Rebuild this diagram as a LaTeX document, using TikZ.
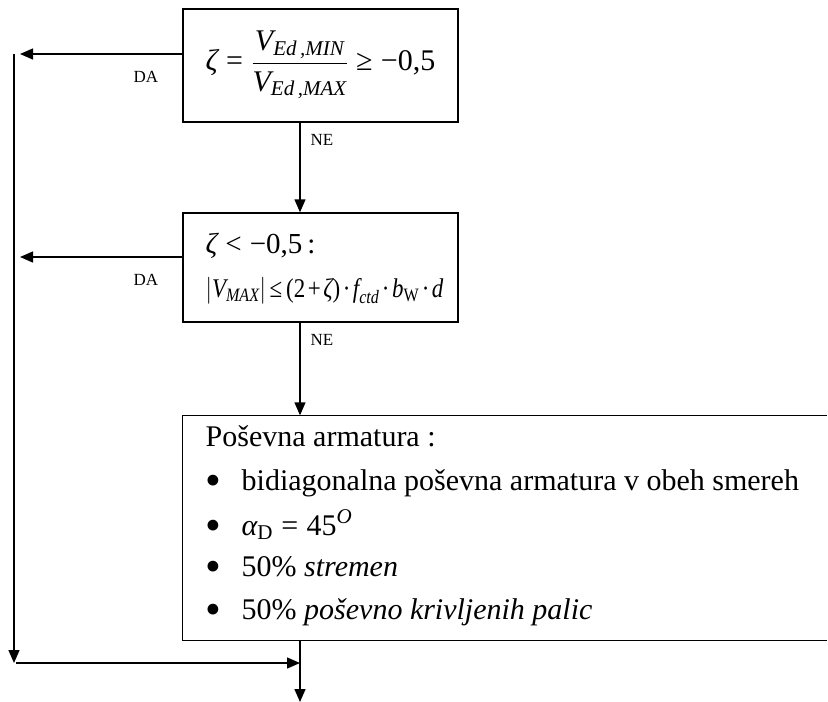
\RequirePackage{fix-cm}
\documentclass[tikz,border=0pt]{standalone}
\usepackage{amsmath}
\usepackage{graphicx}
\usepackage{fontspec}
\setmainfont{Liberation Serif}
\usetikzlibrary{arrows.meta}
% italic / upright pieces of formulas, set in the text face
\newcommand\vi[1]{\text{\itshape #1}}
\newcommand\rl[1]{\mathrel{\text{#1}}}
\newcommand\bn[1]{\mathbin{\text{#1}}}
% list marker followed by the item text
\newcommand\itemmark{\makebox[36pt][l]{\raisebox{-5pt}[0pt][0pt]{\scalebox{1.5}{•}}}}

\begin{document}
\begin{tikzpicture}[x=1pt,y=-1pt,
  line width=1.4pt,
  flow/.style={-{Triangle[length=13pt,width=11pt]}},
  box/.style={draw, rectangle, inner sep=0pt},
  lbl/.style={font=\fontsize{17}{20}\selectfont, inner sep=0pt},
  eq/.style={font=\fontsize{30}{34}\selectfont, inner sep=0pt, anchor=west},
  txt/.style={font=\fontsize{30}{36}\selectfont, inner sep=0pt, anchor=base west}]
\useasboundingbox (0,0) rectangle (828,702);

% reference lines of the flow
\coordinate (spine) at (300,0);
\coordinate (railtop) at (14,54);
\coordinate (railbot) at (14,663);
\coordinate (exit) at (300,702);

% decision 1
\node[box, minimum width=275pt, minimum height=113pt] (b1) at (320.5,65.5) {};
\node[eq] (f1) at (205,65)
  {$\vi{ζ} \rl{=} \dfrac{\vi{V}_{\vi{Ed\,,MIN}}}{\vi{V}_{\vi{Ed\,,MAX}}} \rl{≥} \text{−0,5}$};

% decision 2
\node[box, minimum width=275pt, minimum height=109pt] (b2) at (320.5,267.5) {};
\node[txt, font=\fontsize{29}{34}\selectfont] (f21) at (205,253) {$\vi{ζ} \rl{<} \text{−0,5}$\,:};
\node[txt, font=\fontsize{27}{32}\selectfont] (f22) at (205,297)
  {\scalebox{0.85}[1]{$\medmuskip=2mu \thickmuskip=3mu
    \left|\vi{V}_{\vi{MAX}}\right| \rl{≤} \text{(2} \bn{+} \vi{ζ}\text{)} \bn{·}
    \vi{f}_{\vi{ctd}} \bn{·} \vi{b}_{\text{W}} \bn{·} \vi{d}$}};

% result box, open on the right
\node[inner sep=0pt, minimum width=643pt, minimum height=224pt] (b3) at (504.5,528) {};
\draw (b3.north east) -- (b3.north west) -- (b3.south west) -- (b3.south east);
\node[txt] (r0) at (205,446) {Poševna armatura :};
\node[txt] (r1) at (205,490) {\itemmark bidiagonalna poševna armatura v obeh smereh};
\node[txt] (r2) at (205,535) {\itemmark $\vi{α}_{\text{D}} \rl{=} \text{45}^{\vi{O}}$};
\node[txt] (r3) at (205,576) {\itemmark 50\% \textit{stremen}};
\node[txt] (r4) at (205,619) {\itemmark 50\% \textit{poševno krivljenih palic}};

% connectors
\draw[flow] ([yshift=11.5pt]b1.west) -- ([xshift=6pt]railtop);
\draw[flow] ([yshift=10.5pt]b2.west) -- ([xshift=6pt]railtop |- 0,257);
\draw[flow] (b1.south -| spine) -- (b2.north -| spine);
\draw[flow] (b2.south -| spine) -- (b3.north -| spine);
\draw[flow] (railtop) -- (railbot);
\draw[flow] ([xshift=2pt]railbot) -- (railbot -| spine);
\draw[flow] (b3.south -| spine) -- (exit);

% branch labels
\node[lbl] (da1) at (146,77) {DA};
\node[lbl] (da2) at (146,280) {DA};
\node[lbl] (ne1) at (322,140) {NE};
\node[lbl] (ne2) at (322,340) {NE};
\end{tikzpicture}
\end{document}
